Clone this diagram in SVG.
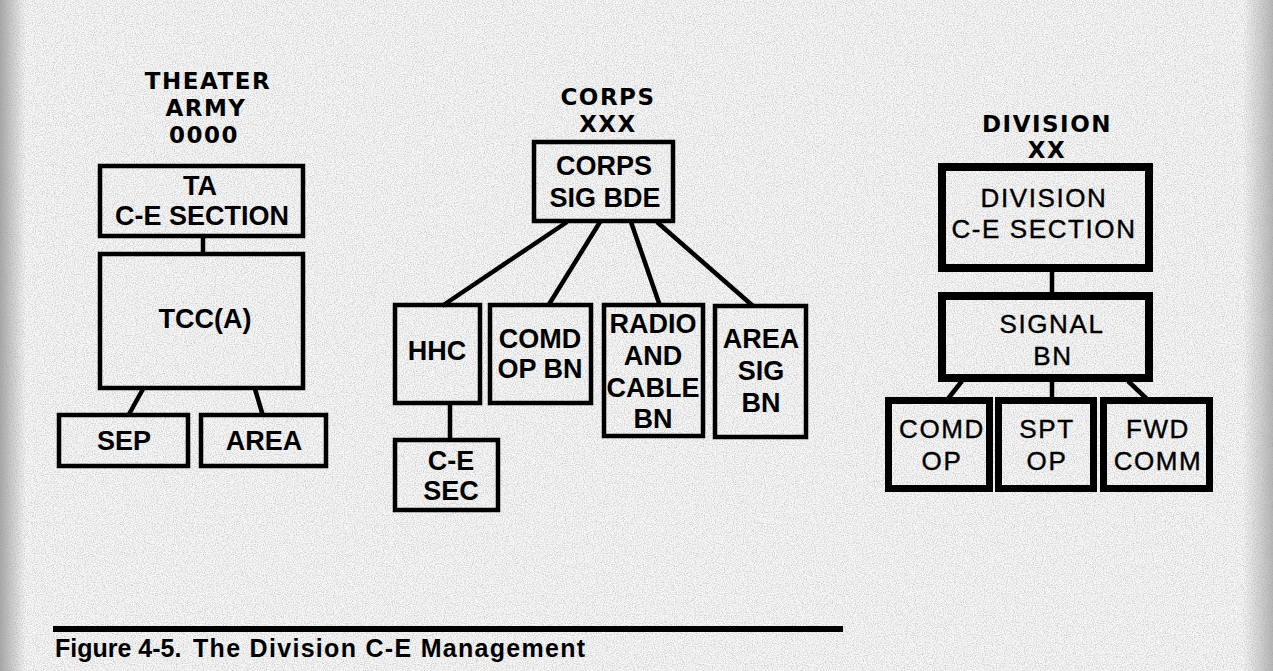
<svg xmlns="http://www.w3.org/2000/svg" width="1273" height="671" viewBox="0 0 1273 671">
  <defs>
    <filter id="grain" x="0" y="0" width="100%" height="100%">
      <feTurbulence type="fractalNoise" baseFrequency="0.9" numOctaves="2" seed="7" result="n"/>
      <feColorMatrix in="n" type="matrix" values="0 0 0 0 0.4  0 0 0 0 0.4  0 0 0 0 0.4  0 0 0 -2.6 1.55"/>
    </filter>
    <linearGradient id="edgeL" x1="0" y1="0" x2="1" y2="0">
      <stop offset="0" stop-color="#9a9a9a" stop-opacity="0.85"/>
      <stop offset="1" stop-color="#9a9a9a" stop-opacity="0"/>
    </linearGradient>
    <linearGradient id="edgeR" x1="1" y1="0" x2="0" y2="0">
      <stop offset="0" stop-color="#9a9a9a" stop-opacity="0.7"/>
      <stop offset="1" stop-color="#9a9a9a" stop-opacity="0"/>
    </linearGradient>
  </defs>
  <style>
    .bg { fill: #f7f7f7; }
    .box { fill: none; stroke: #000; stroke-width: 4.5; }
    .dbox { fill: none; stroke: #000; stroke-width: 8; }
    .sbox { fill: none; stroke: #000; stroke-width: 7; }
    .conn { stroke: #000; stroke-width: 4.5; fill: none; stroke-linecap: butt; }
    .title { font-family: "DejaVu Sans", "Liberation Sans", sans-serif; font-weight: bold; font-size: 23px; letter-spacing: 1.5px; text-anchor: middle; fill: #000; }
    .t { font-family: "Liberation Sans", Arial, sans-serif; font-weight: bold; font-size: 27px; text-anchor: middle; fill: #000; }
    .tr { font-family: "Liberation Sans", Arial, sans-serif; font-weight: normal; font-size: 26px; letter-spacing: 1.6px; text-anchor: middle; fill: #000; stroke: #000; stroke-width: 0.4px; }
    .cap { font-family: "Liberation Sans", Arial, sans-serif; font-weight: bold; font-size: 25px; fill: #000; }
    .cap2 { letter-spacing: 1.3px; }
  </style>

  <g id="background">
    <rect class="bg" x="0" y="0" width="1273" height="671"/>
    <rect x="0" y="0" width="1273" height="671" filter="url(#grain)" opacity="0.5"/>
    <rect x="0" y="0" width="26" height="671" fill="url(#edgeL)"/>
    <rect x="1243" y="0" width="30" height="671" fill="url(#edgeR)"/>
  </g>

  <g id="connectors">
    <line class="conn" x1="203" y1="238" x2="203" y2="254"/>
    <line class="conn" x1="143" y1="389" x2="128" y2="416"/>
    <line class="conn" x1="255" y1="389" x2="263" y2="416"/>
    <line class="conn" x1="567" y1="222" x2="442" y2="306"/>
    <line class="conn" x1="600" y1="222" x2="548" y2="306"/>
    <line class="conn" x1="631" y1="222" x2="660" y2="306"/>
    <line class="conn" x1="657" y1="222" x2="753" y2="306"/>
    <line class="conn" x1="450" y1="404" x2="450" y2="441"/>
    <line class="conn" x1="1052" y1="271" x2="1052" y2="293"/>
    <line class="conn" x1="962" y1="381" x2="947" y2="400"/>
    <line class="conn" x1="1052" y1="381" x2="1052" y2="400"/>
    <line class="conn" x1="1128" y1="381" x2="1148" y2="400"/>
  </g>

  <g id="theater-title">
    <text class="title" x="208" y="89">THEATER</text>
    <text class="title" x="206" y="116">ARMY</text>
    <text class="title" x="204" y="143">0000</text>
  </g>
  <g id="ta-ce-section">
    <rect class="box" x="100" y="166" width="203" height="70"/>
    <text class="t" x="200" y="195">TA</text>
    <text class="t" x="202" y="225">C-E SECTION</text>
  </g>
  <g id="tcc-a">
    <rect class="box" x="100" y="254" width="203" height="134"/>
    <text class="t" x="205" y="328">TCC(A)</text>
  </g>
  <g id="sep">
    <rect class="box" x="59" y="415" width="129" height="51"/>
    <text class="t" x="124" y="450">SEP</text>
  </g>
  <g id="area">
    <rect class="box" x="201" y="415" width="125" height="51"/>
    <text class="t" x="264" y="450">AREA</text>
  </g>

  <g id="corps-title">
    <text class="title" x="608" y="105">CORPS</text>
    <text class="title" x="608" y="132">XXX</text>
  </g>
  <g id="corps-sig-bde">
    <rect class="box" x="534" y="142" width="139" height="79"/>
    <text class="t" x="604" y="175">CORPS</text>
    <text class="t" x="605" y="207">SIG BDE</text>
  </g>
  <g id="hhc">
    <rect class="box" x="395" y="305" width="85" height="98"/>
    <text class="t" x="437" y="360">HHC</text>
  </g>
  <g id="comd-op-bn">
    <rect class="box" x="490" y="305" width="101" height="98"/>
    <text class="t" x="540" y="348">COMD</text>
    <text class="t" x="540" y="378">OP BN</text>
  </g>
  <g id="radio-cable-bn">
    <rect class="box" x="604" y="305" width="99" height="131"/>
    <text class="t" x="653" y="333">RADIO</text>
    <text class="t" x="653" y="365">AND</text>
    <text class="t" x="653" y="397">CABLE</text>
    <text class="t" x="653" y="428">BN</text>
  </g>
  <g id="area-sig-bn">
    <rect class="box" x="715" y="306" width="91" height="131"/>
    <text class="t" x="761" y="348">AREA</text>
    <text class="t" x="761" y="380">SIG</text>
    <text class="t" x="761" y="412">BN</text>
  </g>
  <g id="ce-sec">
    <rect class="box" x="395" y="440" width="103" height="70"/>
    <text class="t" x="451" y="470">C-E</text>
    <text class="t" x="451" y="500">SEC</text>
  </g>

  <g id="division-title">
    <text class="title" x="1047" y="132">DIVISION</text>
    <text class="title" x="1047" y="158">XX</text>
  </g>
  <g id="division-ce-section">
    <rect class="dbox" x="942" y="167" width="207" height="101"/>
    <text class="tr" x="1044" y="207">DIVISION</text>
    <text class="tr" x="1044" y="238">C-E SECTION</text>
  </g>
  <g id="signal-bn">
    <rect class="dbox" x="942" y="296" width="207" height="82"/>
    <text class="tr" x="1052" y="333">SIGNAL</text>
    <text class="tr" x="1053" y="365">BN</text>
  </g>
  <g id="comd-op">
    <rect class="sbox" x="888.5" y="400.5" width="101" height="88"/>
    <text class="tr" x="942" y="438">COMD</text>
    <text class="tr" x="942" y="470">OP</text>
  </g>
  <g id="spt-op">
    <rect class="sbox" x="998.5" y="400.5" width="95" height="88"/>
    <text class="tr" x="1047" y="438">SPT</text>
    <text class="tr" x="1047" y="470">OP</text>
  </g>
  <g id="fwd-comm">
    <rect class="sbox" x="1103.5" y="400.5" width="106" height="88"/>
    <text class="tr" x="1158" y="438">FWD</text>
    <text class="tr" x="1158" y="470">COMM</text>
  </g>

  <g id="caption">
    <rect x="53" y="626" width="790" height="6" fill="#000"/>
    <text class="cap" x="55" y="657">Figure 4-5.<tspan class="cap2" x="193">The Division C-E Management</tspan></text>
  </g>
</svg>
